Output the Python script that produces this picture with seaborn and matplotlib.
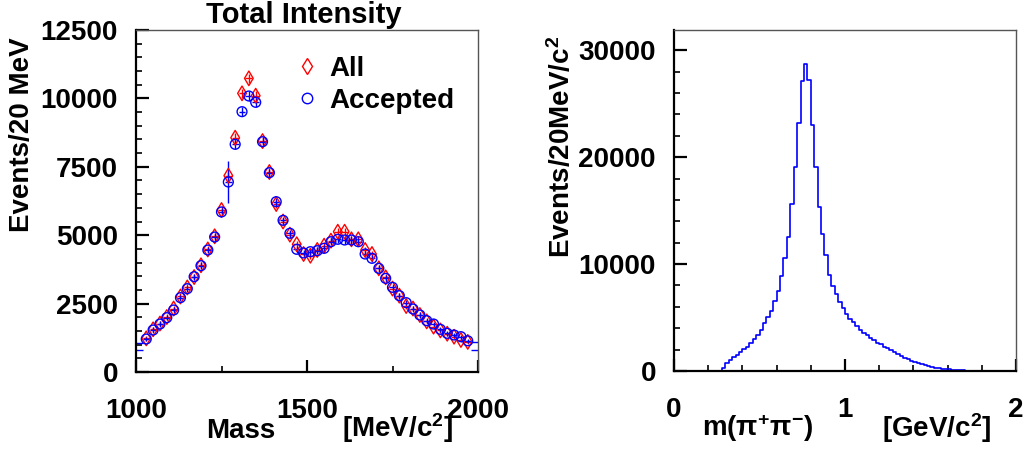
import numpy as np
import pandas as pd
import matplotlib
matplotlib.use("Agg")
import matplotlib.pyplot as plt
import seaborn as sns
from matplotlib.lines import Line2D
from matplotlib.ticker import MultipleLocator

# ---------------- data (left panel) ----------------
mass = [1030, 1050, 1070, 1090, 1110, 1130, 1150, 1170, 1190, 1210,
        1230, 1250, 1270, 1290, 1310, 1330, 1350, 1370, 1390, 1410,
        1430, 1450, 1470, 1490, 1510, 1530, 1550, 1570, 1590, 1610,
        1630, 1650, 1670, 1690, 1710, 1730, 1750, 1770, 1790, 1810,
        1830, 1850, 1870, 1890, 1910, 1930, 1950, 1970]
all_vals = [1230, 1560, 1770, 2010, 2320, 2760, 3090, 3470, 3900, 4480,
            4960, 5921, 7176, 8564, 10185, 10733, 10100, 8440, 7310, 6140,
            5500, 5020, 4670, 4313, 4250, 4460, 4617, 4800, 5128, 5128,
            4850, 4850, 4460, 4313, 3790, 3460, 3050, 2790, 2412, 2320,
            2083, 1850, 1657, 1520, 1400, 1290, 1170, 1100]
acc_vals = [1206, 1535, 1754, 1986, 2266, 2717, 3046, 3484, 3886, 4459,
            4934, 5850, 6945, 8322, 9515, 10088, 9857, 8418, 7285, 6225,
            5544, 5069, 4484, 4350, 4398, 4434, 4520, 4763, 4850, 4825,
            4825, 4763, 4313, 4155, 3788, 3422, 3094, 2790, 2534, 2303,
            2083, 1876, 1754, 1559, 1413, 1352, 1291, 1140]
all_err = [90, 95, 100, 100, 105, 110, 110, 115, 120, 125,
           130, 140, 150, 160, 170, 175, 170, 160, 150, 140,
           135, 130, 125, 125, 125, 125, 125, 130, 130, 130,
           130, 130, 125, 125, 120, 115, 110, 105, 100, 100,
           95, 90, 85, 85, 80, 80, 75, 75]
acc_err = [90, 95, 100, 100, 105, 110, 110, 115, 120, 125,
           130, 140, 760, 160, 170, 175, 170, 160, 150, 140,
           135, 130, 125, 125, 125, 125, 125, 130, 130, 130,
           130, 130, 125, 125, 120, 115, 110, 105, 100, 100,
           95, 90, 85, 85, 80, 80, 75, 75]
edge_mass = [1010, 1010, 1990, 1990]
edge_vals = [1060, 804, 1108, 790]

# ---------------- data (right panel) ----------------
hist_range = (0.0, 2.0)
hist_counts = [0, 0, 0, 0, 0, 0, 0, 0, 0, 0,
               0, 0, 0, 0, 312, 716, 1028, 1277, 1495, 1745,
               2025, 2274, 2586, 2960, 3364, 3832, 4455, 5078, 5639, 6542,
               7508, 8879, 10592, 12555, 15607, 19097, 23209, 27103, 28754, 27196,
               23053, 19097, 15296, 12804, 10810, 8941, 7944, 7165, 6480, 5857,
               5296, 4829, 4579, 4206, 3832, 3583, 3333, 3053, 2866, 2648,
               2492, 2274, 2118, 1931, 1745, 1558, 1402, 1246, 1121, 966,
               841, 716, 623, 530, 436, 374, 312, 249, 218, 187,
               156, 125, 93, 70, 50, 35, 20, 10, 0, 0,
               0, 0, 0, 0, 0, 0, 0, 0, 0, 0]

# ---------------- style ----------------
sns.set_theme(style="ticks")
plt.rcParams.update({
    "font.family": ["Liberation Sans", "DejaVu Sans"],
    "font.weight": "bold",
    "text.color": "black",
    "axes.labelcolor": "black",
    "xtick.color": "black",
    "ytick.color": "black",
    "mathtext.fontset": "custom",
    "mathtext.rm": "Liberation Sans:bold",
    "mathtext.bf": "Liberation Sans:bold",
    "mathtext.it": "Liberation Sans:bold",
    "mathtext.default": "bf",
})
FS = 20

fig = plt.figure(figsize=(10.27, 4.5), dpi=100)
ax1 = fig.add_axes([136 / 1027, 78 / 450, 342 / 1027, 342 / 450])
ax2 = fig.add_axes([674 / 1027, 79 / 450, 342 / 1027, 341 / 450])


def style_axes(ax):
    for s in ["left", "bottom"]:
        ax.spines[s].set_color("black")
        ax.spines[s].set_linewidth(1.6)
    for s in ["top", "right"]:
        ax.spines[s].set_color("#555555")
        ax.spines[s].set_linewidth(1.0)
    ax.tick_params(axis="both", which="both", direction="in", colors="black",
                   top=False, right=False)
    ax.tick_params(axis="both", which="major", length=9, width=1.6,
                   labelsize=FS)
    ax.tick_params(axis="y", which="major", pad=13)
    ax.tick_params(axis="x", which="major", pad=19)
    ax.tick_params(axis="both", which="minor", length=4.5, width=1.2)
    for lab in ax.get_xticklabels() + ax.get_yticklabels():
        lab.set_fontweight("bold")
        lab.set_color("black")
    ax.set_xlabel("")
    ax.set_ylabel("")


# ---------------- left panel ----------------
df_all = pd.DataFrame({"Mass": mass, "Events": all_vals})
df_acc = pd.DataFrame({"Mass": mass, "Events": acc_vals})

ax1.errorbar(mass, all_vals, xerr=10, yerr=all_err, fmt="none",
             ecolor="#ff0000", elinewidth=1.0, capsize=0, zorder=2)
ax1.errorbar(mass, acc_vals, xerr=10, yerr=acc_err, fmt="none",
             ecolor="#0000ff", elinewidth=1.0, capsize=0, zorder=2.1)
ax1.errorbar(edge_mass, edge_vals, xerr=10, fmt="none",
             ecolor="#0000ff", elinewidth=1.0, capsize=0, zorder=2.1)
sns.scatterplot(data=df_all, x="Mass", y="Events", marker="d", s=55,
                facecolors="none", edgecolor="#ff0000", linewidth=1.0,
                ax=ax1, zorder=3)
sns.scatterplot(data=df_acc, x="Mass", y="Events", marker="o", s=50,
                facecolors="none", edgecolor="#0000ff", linewidth=1.0,
                ax=ax1, zorder=3.1)

ax1.set_xlim(1000, 2000)
ax1.set_ylim(0, 12500)
ax1.xaxis.set_major_locator(MultipleLocator(500))
ax1.xaxis.set_minor_locator(MultipleLocator(250))
ax1.yaxis.set_major_locator(MultipleLocator(2500))
ax1.yaxis.set_minor_locator(MultipleLocator(500))
style_axes(ax1)

handles = [Line2D([], [], marker="d", ls="none", mfc="none", mec="#ff0000",
                  ms=8, mew=1.0),
           Line2D([], [], marker="o", ls="none", mfc="none", mec="#0000ff",
                  ms=7.5, mew=1.0)]
ax1.legend(handles, ["All", "Accepted"], loc="upper left",
           bbox_to_anchor=(0.46, 0.925), frameon=False,
           prop={"size": FS, "weight": "bold"}, handlelength=1.0,
           handletextpad=0.3, labelspacing=0.22, borderpad=0,
           borderaxespad=0)

fig.text(304 / 1027, 1 - 15 / 450, "Total Intensity", ha="center",
         va="center", fontsize=21, fontweight="bold")
fig.text(22 / 1027, 1 - 135 / 450, "Events/20 MeV", rotation=90,
         ha="center", va="center", fontsize=FS, fontweight="bold")
fig.text(241 / 1027, 1 - 431 / 450, "Mass", ha="center", va="center",
         fontsize=FS, fontweight="bold")
fig.text(398 / 1027, 1 - 428 / 450, r"[MeV/c$^{\mathbf{2}}$]", ha="center",
         va="center", fontsize=FS, fontweight="bold")

# ---------------- right panel ----------------
nb = len(hist_counts)
width = (hist_range[1] - hist_range[0]) / nb
df_h = pd.DataFrame({"m": hist_range[0] + width * (np.arange(nb) + 0.5),
                     "w": hist_counts})
sns.histplot(data=df_h, x="m", weights="w", bins=nb, binrange=hist_range,
             element="step", fill=False, color="#0000ff", linewidth=1.2,
             ax=ax2, zorder=1)
ax2.set_xlim(0, 2)
ax2.set_ylim(0, 31900)
ax2.xaxis.set_major_locator(MultipleLocator(1))
ax2.xaxis.set_minor_locator(MultipleLocator(0.2))
ax2.yaxis.set_major_locator(MultipleLocator(10000))
ax2.yaxis.set_minor_locator(MultipleLocator(2000))
style_axes(ax2)

fig.text(562 / 1027, 1 - 147 / 450, r"Events/20MeV/c$^{\mathbf{2}}$",
         rotation=90, ha="center", va="center", fontsize=FS,
         fontweight="bold")
fig.text(757 / 1027, 1 - 428 / 450, r"m(π$^{\mathbf{+}}$π$^{\mathbf{-}}$)",
         ha="center", va="center", fontsize=FS, fontweight="bold")
fig.text(937 / 1027, 1 - 428 / 450, r"[GeV/c$^{\mathbf{2}}$]", ha="center",
         va="center", fontsize=FS, fontweight="bold")

fig.savefig("out.png", dpi=100)
